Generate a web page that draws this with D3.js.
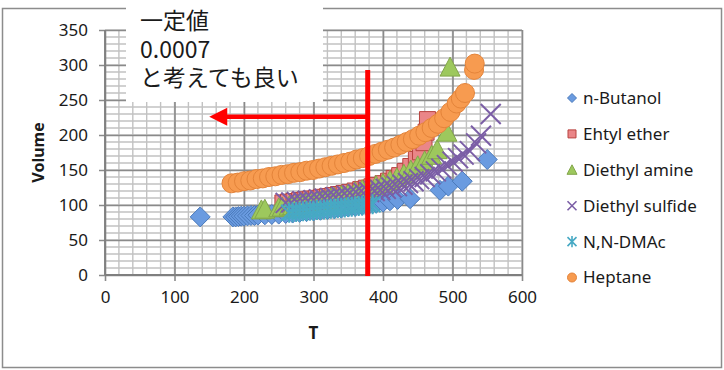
<!DOCTYPE html>
<html>
<head>
<meta charset="utf-8">
<script src="https://cdn.jsdelivr.net/npm/d3@7"></script>
<style>
body { margin: 0; background: #fff; }
svg text { font-family: "Noto Sans", sans-serif; fill: #1a1a1a; }
</style>
</head>
<body>
<div id="chart"></div>
<script>
// series values (T, Volume)
const butanolT = [137, 184, 188, 192, 196, 200, 205, 210, 215, 220, 230, 240, 250, 260, 270, 280, 290, 300, 310, 320, 330, 340, 350, 360, 370, 380, 390, 400, 410, 421, 439, 482, 494, 514, 550];
const butanolV = [83, 83, 83, 83.5, 84, 84, 84.5, 85, 85, 85.5, 86, 86.5, 87, 88, 88.5, 89.5, 90.5, 91.5, 92.5, 93.5, 94.5, 95.5, 97, 98, 99.5, 101, 102.5, 104, 106, 108, 109, 121, 127, 134, 165];

const etherT = [256, 264, 272, 280, 288, 296, 304, 312, 320, 328, 336, 344, 352, 360, 368, 376, 384, 392, 400, 408, 416, 424, 432, 440, 448, 454, 459, 462, 464];
const etherV = [103, 104, 105, 106.5, 107.5, 108.5, 109.5, 111, 112, 113.5, 115, 116.5, 118, 120, 122, 124, 126, 128, 130.5, 134, 138, 142, 148, 155, 165, 176, 189, 204, 222];

const amineT = [225, 230, 250, 255, 265, 270, 275, 280, 285, 290, 295, 300, 305, 310, 315, 320, 325, 330, 340, 350, 360, 370, 380, 390, 400, 410, 420, 430, 440, 450, 460, 470, 478, 492, 496.5];
const amineV = [93, 94, 96, 97, 98.5, 99, 100, 101, 102, 103, 103.5, 104, 105, 106, 107, 108.5, 110, 111, 113.5, 116, 119, 122, 125, 128, 131, 135, 139, 144, 150, 156, 163, 171, 179, 204, 297];

const sulfideT = [260, 268, 276, 284, 292, 300, 308, 316, 324, 332, 340, 348, 356, 364, 372, 380, 388, 396, 404, 412, 420, 428, 436, 444, 452, 460, 468, 476, 484, 492, 500, 508, 516, 525, 534, 541, 555];
const sulfideV = [103, 103.5, 104.5, 105.5, 106, 107, 108, 109, 110, 111, 112, 113, 114, 115.5, 117, 118.5, 120, 121.5, 123, 125, 127, 129, 131.5, 134, 137, 140, 144, 148, 152, 157, 162, 167, 172, 177, 188, 199, 230];

const dmacT = [265, 270, 275, 280, 285, 290, 295, 300, 305, 310, 315, 320, 325, 330, 335, 340, 345, 350, 355, 360, 365, 370, 375, 380, 385];
const dmacV = [89, 89.5, 90, 90.4, 90.9, 91.3, 91.8, 92.3, 92.7, 93.2, 93.7, 94.1, 94.6, 95.1, 95.6, 96.1, 96.6, 97.1, 97.6, 98.1, 98.7, 99.2, 99.8, 100.4, 101];

const heptaneT = [182, 191, 200, 209, 218, 227, 236, 245, 254, 263, 272, 281, 290, 299, 308, 317, 326, 335, 344, 353, 362, 371, 380, 389, 398, 407, 416, 425, 434, 443, 452, 461, 470, 479, 488, 497, 506, 512, 518, 531, 532];
const heptaneV = [131, 132, 134, 135, 137, 138, 140, 141, 143, 144, 146, 147, 149, 150, 152, 154, 156, 158, 160, 162, 165, 167, 170, 173, 176, 179, 182, 186, 190, 194, 199, 204, 210, 216, 224, 233, 245, 252, 260, 293, 302];

const seriesNames = ['n-Butanol', 'Ehtyl ether', 'Diethyl amine', 'Diethyl sulfide', 'N,N-DMAc', 'Heptane'];
const xTicks = [0, 100, 200, 300, 400, 500, 600];
const yTicks = [0, 50, 100, 150, 200, 250, 300, 350];
const xLabel = 'T';
const yLabel = 'Volume';

// annotation
const noteLines = ['一定値', '0.0007', 'と考えても良い'];
const markT = 378;
const markTopV = 293;
const arrowV = 226;
const arrowTipT = 150;

// marker shapes
const symDiamond = { draw(ctx, size) { const r = Math.sqrt(size); ctx.moveTo(0, -r); ctx.lineTo(r, 0); ctx.lineTo(0, r); ctx.lineTo(-r, 0); ctx.closePath(); } };
const symSquare = { draw(ctx, size) { const r = Math.sqrt(size); ctx.rect(-r, -r, 2 * r, 2 * r); } };
const symTriangle = { draw(ctx, size) { const r = Math.sqrt(size); ctx.moveTo(0, -r); ctx.lineTo(r, r * 0.9); ctx.lineTo(-r, r * 0.9); ctx.closePath(); } };
const symX = { draw(ctx, size) { const r = Math.sqrt(size); ctx.moveTo(-r, -r); ctx.lineTo(r, r); ctx.moveTo(r, -r); ctx.lineTo(-r, r); } };
const symStar = { draw(ctx, size) { const r = Math.sqrt(size); ctx.moveTo(-r, -r); ctx.lineTo(r, r); ctx.moveTo(r, -r); ctx.lineTo(-r, r); ctx.moveTo(0, -r * 1.25); ctx.lineTo(0, r * 1.25); } };
const symCircle = { draw(ctx, size) { const r = Math.sqrt(size); ctx.moveTo(r, 0); ctx.arc(0, 0, r, 0, 2 * Math.PI); } };

const series = [
	{ name: seriesNames[0], T: butanolT, V: butanolV, type: symDiamond, r: 10, lr: 4.5, fill: '#6a9be0', stroke: '#4a7abb', sw: 1 },
	{ name: seriesNames[1], T: etherT, V: etherV, type: symSquare, r: 8, lr: 4, fill: '#ea8688', stroke: '#b8433f', sw: 1 },
	{ name: seriesNames[2], T: amineT, V: amineV, type: symTriangle, r: 10, lr: 5, fill: '#9dc85d', stroke: '#83a64b', sw: 1 },
	{ name: seriesNames[3], T: sulfideT, V: sulfideV, type: symX, r: 10, lr: 4.5, fill: 'none', stroke: '#7b5ea6', sw: 2 },
	{ name: seriesNames[4], T: dmacT, V: dmacV, type: symStar, r: 8, lr: 4.5, fill: 'none', stroke: '#47a9c4', sw: 2 },
	{ name: seriesNames[5], T: heptaneT, V: heptaneV, type: symCircle, r: 9.5, lr: 4.5, fill: '#f79b50', stroke: '#e4843a', sw: 1 }
];

const width = 724;
const height = 370;

const svg = d3.select('#chart')
	.append('svg')
		.attr('width', width)
		.attr('height', height);

// outer frame
svg.append('rect')
	.attr('x', 2.5)
	.attr('y', 8.5)
	.attr('width', 719)
	.attr('height', 359)
	.attr('fill', '#fff')
	.attr('stroke', '#8c8c8c')
	.attr('stroke-width', 1.5);

const xScale = d3.scaleLinear()
	.domain([0, 600])
	.range([105, 522]);

const yScale = d3.scaleLinear()
	.domain([0, 350])
	.range([275, 30]);

// minor grid
const grid = svg.append('g');
grid.selectAll('.vminor')
	.data(d3.range(0, 601, 20))
	.join('line')
		.attr('x1', d => xScale(d)).attr('x2', d => xScale(d))
		.attr('y1', yScale(0)).attr('y2', yScale(350))
		.attr('stroke', '#c2c2c2')
		.attr('stroke-width', 1.4);
grid.selectAll('.hminor')
	.data(d3.range(0, 351, 10))
	.join('line')
		.attr('x1', xScale(0)).attr('x2', xScale(600))
		.attr('y1', d => yScale(d)).attr('y2', d => yScale(d))
		.attr('stroke', '#c2c2c2')
		.attr('stroke-width', 1.4);

// axes with major grid
const xAxis = svg.append('g')
	.attr('transform', `translate(0, ${yScale(0)})`)
	.call(d3.axisBottom(xScale)
		.tickValues(xTicks)
		.tickSize(6)
		.tickPadding(10));
xAxis.select('.domain').remove();
xAxis.selectAll('.tick line')
	.attr('y1', -(yScale(0) - yScale(350)))
	.attr('stroke', '#8a8a8a')
	.attr('stroke-width', 1.6);
xAxis.selectAll('.tick text')
	.style('font-size', '17px')
	.attr('fill', '#1a1a1a');

const yAxis = svg.append('g')
	.attr('transform', `translate(${xScale(0)}, 0)`)
	.call(d3.axisLeft(yScale)
		.tickValues(yTicks)
		.tickSize(6)
		.tickPadding(11));
yAxis.select('.domain').remove();
yAxis.selectAll('.tick line')
	.attr('x1', xScale(600) - xScale(0))
	.attr('stroke', '#8a8a8a')
	.attr('stroke-width', 1.6);
yAxis.selectAll('.tick text')
	.style('font-size', '17px')
	.attr('fill', '#1a1a1a');

// axis lines
svg.append('line')
	.attr('x1', xScale(0)).attr('x2', xScale(0))
	.attr('y1', yScale(0)).attr('y2', yScale(350))
	.attr('stroke', '#7f7f7f').attr('stroke-width', 1.8);
svg.append('line')
	.attr('x1', xScale(0)).attr('x2', xScale(600))
	.attr('y1', yScale(0)).attr('y2', yScale(0))
	.attr('stroke', '#7f7f7f').attr('stroke-width', 1.8);

// axis titles
svg.append('text')
	.attr('x', (xScale(0) + xScale(600)) / 2)
	.attr('y', 339)
	.attr('text-anchor', 'middle')
	.style('font-size', '17px')
	.style('font-weight', 'bold')
	.text(xLabel);

svg.append('text')
	.attr('transform', `translate(44, ${(yScale(0) + yScale(350)) / 2}) rotate(-90)`)
	.attr('text-anchor', 'middle')
	.style('font-size', '16px')
	.style('font-weight', 'bold')
	.text(yLabel);

// points
const marks = svg.append('g');
series.forEach(s => {
	const pts = s.T.map((t, i) => ({ t, v: s.V[i] }));
	marks.append('g')
		.selectAll('path')
		.data(pts)
		.join('path')
			.attr('transform', d => `translate(${xScale(d.t)}, ${yScale(d.v)})`)
			.attr('d', d3.symbol().type(s.type).size(s.r * s.r))
			.attr('fill', s.fill)
			.attr('stroke', s.stroke)
			.attr('stroke-width', s.sw);
});

// legend
const legend = svg.append('g');
series.forEach((s, i) => {
	const y = 98 + i * 35.9;
	legend.append('path')
		.attr('transform', `translate(572, ${y})`)
		.attr('d', d3.symbol().type(s.type).size(s.lr * s.lr))
		.attr('fill', s.fill)
		.attr('stroke', s.stroke)
		.attr('stroke-width', s.sw === 2 ? 1.6 : 1);
	legend.append('text')
		.attr('x', 583)
		.attr('y', y)
		.attr('dy', '0.35em')
		.style('font-size', '17px')
		.text(s.name);
});

// red marker lines
const red = '#ff0000';
svg.append('line')
	.attr('x1', xScale(markT)).attr('x2', xScale(markT))
	.attr('y1', yScale(0) + 1).attr('y2', yScale(markTopV))
	.attr('stroke', red).attr('stroke-width', 5);
svg.append('line')
	.attr('x1', xScale(markT) + 2).attr('x2', xScale(arrowTipT) + 14)
	.attr('y1', yScale(arrowV)).attr('y2', yScale(arrowV))
	.attr('stroke', red).attr('stroke-width', 4.5);
svg.append('path')
	.attr('d', `M${xScale(arrowTipT)},${yScale(arrowV)} L${xScale(arrowTipT) + 18},${yScale(arrowV) - 9} L${xScale(arrowTipT) + 18},${yScale(arrowV) + 9} Z`)
	.attr('fill', red);

// note box
svg.append('rect')
	.attr('x', 126)
	.attr('y', 0)
	.attr('width', 197)
	.attr('height', 102)
	.attr('fill', '#fff');

svg.append('g')
	.selectAll('text')
	.data(noteLines)
	.join('text')
		.attr('x', 140)
		.attr('y', (d, i) => 29 + i * 28.5)
		.style('font-family', '"Noto Sans CJK JP", "Noto Sans", sans-serif')
		.style('font-size', '23px')
		.attr('fill', '#000')
		.text(d => d);
</script>
</body>
</html>
